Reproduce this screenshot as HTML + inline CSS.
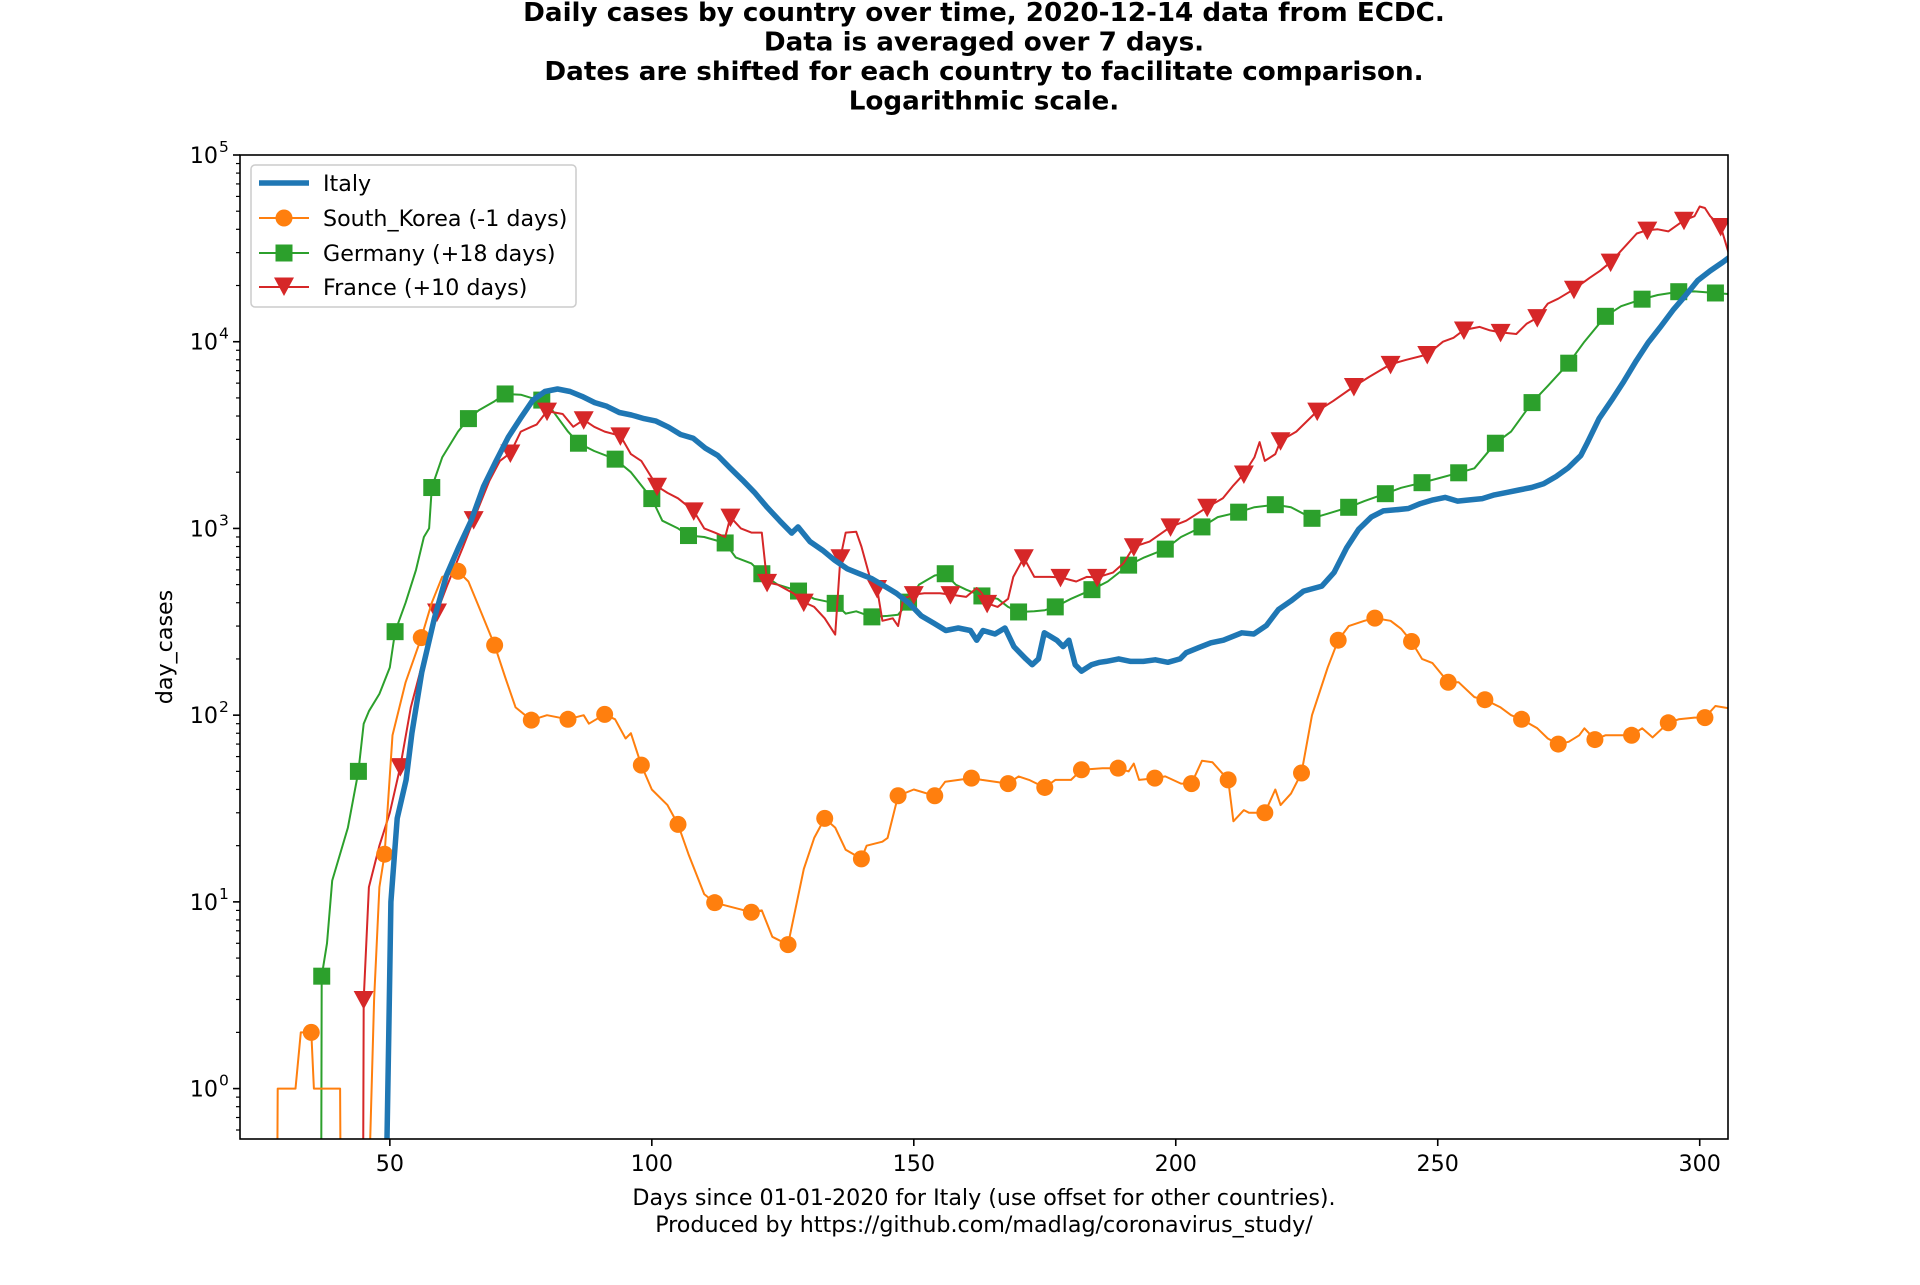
<!DOCTYPE html>
<html><head><meta charset="utf-8"><style>
html,body{margin:0;padding:0;background:#fff;}
svg text{font-family:"DejaVu Sans","Liberation Sans",sans-serif;}
</style></head><body>
<svg id="chart" width="1920" height="1280" viewBox="0 0 1920 1280" xmlns="http://www.w3.org/2000/svg">
<rect x="0" y="0" width="1920" height="1280" fill="#fff"/>
<g font-weight="bold" font-size="26.2" text-anchor="middle">
<text x="984" y="21">Daily cases by country over time, 2020-12-14 data from ECDC.</text>
<text x="984" y="50.5">Data is averaged over 7 days.</text>
<text x="984" y="80">Dates are shifted for each country to facilitate comparison.</text>
<text x="984" y="109.5">Logarithmic scale.</text>
</g>
<defs><clipPath id="plotclip"><rect x="240" y="155" width="1488" height="984"/></clipPath></defs>
<g id="series" clip-path="url(#plotclip)"></g>
<rect x="240" y="155" width="1488" height="984" fill="none" stroke="#000" stroke-width="1.6"/>
<g id="axes"></g>
<text x="0" y="0" font-size="22.2" text-anchor="middle" transform="translate(172,647) rotate(-90)">day_cases</text>
<g font-size="22.2" text-anchor="middle">
<text x="984" y="1205">Days since 01-01-2020 for Italy (use offset for other countries).</text>
<text x="984" y="1232">Produced by https://github.com/madlag/coronavirus_study/</text>
</g>
<g id="legend">
<rect x="251" y="165" width="325" height="142" rx="4" fill="#fff" fill-opacity="0.8" stroke="#ccc" stroke-width="1.5"/>
</g>
</svg>
<script>
const NS='http://www.w3.org/2000/svg';
const xTicks=[50,100,150,200,250,300];
const yTickExps=[0,1,2,3,4,5];
const seriesNames=['Italy','South_Korea (-1 days)','Germany (+18 days)','France (+10 days)'];
const italyData=[[49.3,0.3],[49.8,2],[50.2,10],[51.4,28],[53.1,45],[54.2,80],[56.1,170],[58.5,330],[60.8,560],[63.2,800],[65.5,1099],[67.9,1682],[70.2,2278],[72.6,3086],[74.9,3874],[77.3,4868],[79.6,5415],[82,5580],[84.4,5415],[86.7,5093],[89.1,4720],[91.4,4510],[93.8,4178],[96.1,4053],[98.5,3874],[100.8,3757],[103.2,3483],[105.5,3183],[107.9,3040],[110.2,2692],[112.6,2458],[114.9,2113],[117.3,1815],[119.6,1560],[122,1298],[124.4,1099],[126.7,944],[127.9,1019],[130.2,849],[132.6,764],[134.9,676],[137.3,608],[139.6,572],[142,538],[144.4,491],[146.7,449],[149.1,397],[151.4,341],[153.8,311],[156.1,284],[158.5,293],[160.8,284],[162,252],[163.2,284],[165.5,272],[167.4,293],[169.1,233],[171.4,200],[172.6,186],[173.8,200],[174.9,276],[177.3,252],[178.5,233],[179.6,252],[180.8,186],[182,172],[183.9,186],[185.5,192],[186.7,194],[189.1,200],[191.4,194],[193.8,194],[196.1,198],[198.5,192],[200.8,200],[202,216],[204.4,230],[206.7,244],[209.1,252],[212.6,276],[214.9,272],[217.3,302],[219.6,368],[222,409],[224.4,462],[227.9,491],[230.2,580],[232.6,787],[234.9,988],[237.3,1150],[239.6,1241],[242,1259],[244.4,1279],[246.7,1359],[249.1,1422],[251.4,1466],[253.8,1400],[256.1,1422],[258.5,1445],[260.8,1512],[263.2,1560],[265.5,1607],[267.9,1656],[270.2,1734],[272.6,1898],[274.9,2113],[277.3,2458],[278.5,2860],[280.8,3874],[283.2,4868],[285.5,6116],[287.9,7910],[290.2,9931],[292.6,12100],[294.9,14760],[297.3,17700],[299.6,21240],[302,23970],[304.4,26670],[306,28780]];
const koreaData=[[28.5,0.3],[28.6,1],[32,1],[33,2],[35,2],[35.5,1],[40.5,1],[40.6,0.3],[46,0.3],[47,3],[48,12],[49,18],[50.5,78],[53,150],[56,260],[58,400],[60,550],[63,590],[65,520],[67,380],[70,237],[72,160],[74,110],[77,94],[80,100],[84,95],[87,100],[88,90],[91,101],[93,95],[95,75],[96,80],[98,54],[100,40],[103,33],[105,26],[107,18],[110,11],[112,9.9],[119,8.8],[121,9],[123,6.5],[126,5.9],[129,15],[131,22],[133,28],[135,25],[137,19],[140,17],[141,20],[144,21],[145,22],[147,37],[150,40],[154,37],[156,44],[161,46],[163,45],[168,43],[170,47],[172,45],[175,41],[177,45],[180,45],[182,51],[186,52],[189,52],[191,50],[192,55],[193,45],[196,46],[198,47],[201,43],[203,43],[205,57],[207,56],[210,45],[211,27],[213,31],[214,30],[217,30],[219,40],[220,33],[222,38],[224,49],[226,100],[229,180],[231,252],[233,300],[236,320],[238,331],[241,320],[243,290],[245,248],[247,200],[249,190],[252,150],[254,150],[257,125],[259,121],[262,110],[264,100],[266,95],[269,85],[271,75],[273,70],[275,72],[277,78],[278,85],[280,74],[282,78],[285,78],[287,78],[289,85],[291,76],[294,91],[296,95],[299,97],[301,97],[303,112],[305.5,109]];
const germanyData=[[36.9,0.3],[37,4],[38,6],[39,13],[42,25],[44,50],[45,90],[46,105],[48,130],[50,180],[51,280],[53,400],[55,600],[56.5,900],[57.5,1000],[58,1656],[60,2400],[63,3300],[65,3874],[67,4300],[70,4800],[72,5250],[75,5200],[77,5000],[79,4868],[81,4300],[84,3300],[86,2860],[89,2600],[93,2350],[96,2000],[98,1700],[100,1445],[102,1100],[105,1000],[107,916],[110,900],[114,836],[116,700],[119,650],[121,572],[124,500],[128,462],[131,420],[135,397],[137,350],[139,360],[142,336],[145,340],[147,345],[149,403],[151,500],[154,560],[156,572],[158,500],[160,470],[163,435],[166,420],[168,380],[170,357],[173,360],[175,365],[177,380],[180,420],[184,470],[187,520],[191,636],[194,700],[198,775],[201,900],[205,1019],[208,1150],[212,1222],[215,1300],[219,1340],[222,1300],[226,1133],[229,1200],[233,1298],[236,1400],[240,1535],[243,1650],[247,1758],[250,1850],[254,1986],[257,2100],[261,2860],[264,3300],[268,4720],[271,5800],[275,7674],[278,10000],[282,13680],[285,15500],[289,16900],[292,17800],[296,18530],[299,18600],[303,18240],[305.5,18000]];
const franceData=[[44.9,0.3],[45,3],[46,12],[48,20],[50,30],[52,53],[54,110],[56,180],[58,280],[59,357],[61,500],[64,800],[66,1115],[69,1800],[71,2300],[73,2535],[75,3300],[77,3500],[78,3600],[80,4250],[83,4100],[85,3500],[87,3818],[89,3500],[91,3300],[94,3133],[96,2500],[98,2300],[101,1682],[103,1550],[105,1450],[108,1241],[110,1000],[112,950],[114,900],[115,1150],[117,1000],[119,950],[121,950],[122,514],[124,500],[127,450],[129,403],[131,380],[133,330],[135,270],[136,697],[137,950],[139,960],[140,800],[142,500],[143,477],[144,320],[146,330],[147,300],[148,420],[150,442],[152,450],[155,450],[157,442],[160,430],[162,480],[163,450],[164,397],[166,380],[168,420],[169,550],[171,697],[173,550],[176,550],[178,547],[181,520],[183,550],[185,547],[188,580],[190,650],[192,798],[195,850],[199,1019],[202,1100],[206,1298],[209,1450],[211,1700],[213,1958],[215,2400],[216,2900],[217,2300],[219,2500],[220,2950],[223,3300],[227,4250],[230,4800],[234,5754],[237,6500],[241,7565],[244,8000],[248,8540],[251,10000],[253,10500],[255,11560],[258,12000],[260,11500],[262,11220],[265,11000],[267,12500],[269,13450],[271,16000],[273,17000],[276,19110],[279,22000],[281,24000],[283,26670],[286,33000],[288,38000],[290,39600],[292,40000],[294,39000],[297,44700],[299,47000],[300,53000],[301,52000],[302,47000],[304,41400],[305.5,30000]];

const X0=240,X1=1728,Y0=155,Y1=1139;
const xMin=21.4,xMax=305.4;
const yTop=5,yBot=-0.27;
function xs(d){return X0+(d-xMin)/(xMax-xMin)*(X1-X0);}
function ys(v){return Y0+(yTop-Math.log10(v))/(yTop-yBot)*(Y1-Y0);}

const svg=document.getElementById('chart');
const gS=document.getElementById('series');
const gA=document.getElementById('axes');
function mk(tag,attrs,parent){const e=document.createElementNS(NS,tag);for(const k in attrs)e.setAttribute(k,attrs[k]);parent.appendChild(e);return e;}

xTicks.forEach(t=>{
  const x=xs(t);
  const tk=mk('line',{x1:x,x2:x,y1:Y1,y2:Y1+7,stroke:'#000','stroke-width':1.6},gA);
  
  
  const lb=mk('text',{x:x,y:Y1+32,'font-size':22.2,'text-anchor':'middle'},gA);
  
  
  lb.textContent=String(t);
});
yTickExps.forEach(e=>{
  const y=ys(Math.pow(10,e));
  const tk=mk('line',{x1:X0-7,x2:X0,y1:y,y2:y,stroke:'#000','stroke-width':1.6},gA);
  
  
  const lb=mk('text',{x:X0-22,y:y+8,'font-size':22.2,'text-anchor':'end'},gA);
  
  
  lb.textContent='10';
  const sp=mk('text',{x:X0-21,y:y-3,'font-size':15.5,'text-anchor':'start'},gA);
  
  
  sp.textContent=String(e);
});
for(let e=-1;e<=4;e++){
  for(let m=2;m<=9;m++){
    const v=m*Math.pow(10,e);
    if(Math.log10(v)<yBot||Math.log10(v)>yTop)continue;
    const yy=ys(v);
    const mt=mk('line',{x1:X0-4,x2:X0,y1:yy,y2:yy,stroke:'#000','stroke-width':1.2},gA);
    
    
  }
}

function drawSeries(data,color,width,name,marker,mStart){
  const pts=data.map(p=>xs(p[0]).toFixed(1)+','+ys(Math.max(p[1],0.01)).toFixed(1)).join(' ');
  const pl=mk('polyline',{points:pts,fill:'none',stroke:color,'stroke-width':width,'stroke-linejoin':'round'},gS);
  
  
  if(!marker)return;
  data.forEach(p=>{
    if(!Number.isInteger(p[0])||((p[0]-mStart)%7)!==0||p[1]<0.4)return;
    const el=drawMarker(xs(p[0]),ys(p[1]),marker,color,gS);
    
    
  });
}
function drawMarker(x,y,type,color,parent){
  if(type==='o')return mk('circle',{cx:x,cy:y,r:8.5,fill:color},parent);
  if(type==='s')return mk('rect',{x:x-8.5,y:y-8.5,width:17,height:17,fill:color},parent);
  return mk('polygon',{points:`${x-10},${y-8.5} ${x+10},${y-8.5} ${x},${y+10}`,fill:color},parent);
}
drawSeries(germanyData,'#2ca02c',2,'germany','s',37);
drawSeries(franceData,'#d62728',2,'france','v',45);
drawSeries(koreaData,'#ff7f0e',2,'south-korea','o',35);
drawSeries(italyData,'#1f77b4',5.5,'italy',null,0);

const gL=document.getElementById('legend');
const legColors=['#1f77b4','#ff7f0e','#2ca02c','#d62728'];
const legMarkers=[null,'o','s','v'];
const legY=[183,218,253,287];
seriesNames.forEach((n,i)=>{
  const g=mk('g',{},gL);
  
  
  mk('line',{x1:259,x2:309,y1:legY[i],y2:legY[i],stroke:legColors[i],'stroke-width':i===0?5.5:2},g);
  if(legMarkers[i])drawMarker(284,legY[i]+(legMarkers[i]==='v'?-1:0),legMarkers[i],legColors[i],g);
  const t=mk('text',{x:323,y:legY[i]+8,'font-size':22.2},g);
  t.textContent=n;
});
</script>
</body></html>
